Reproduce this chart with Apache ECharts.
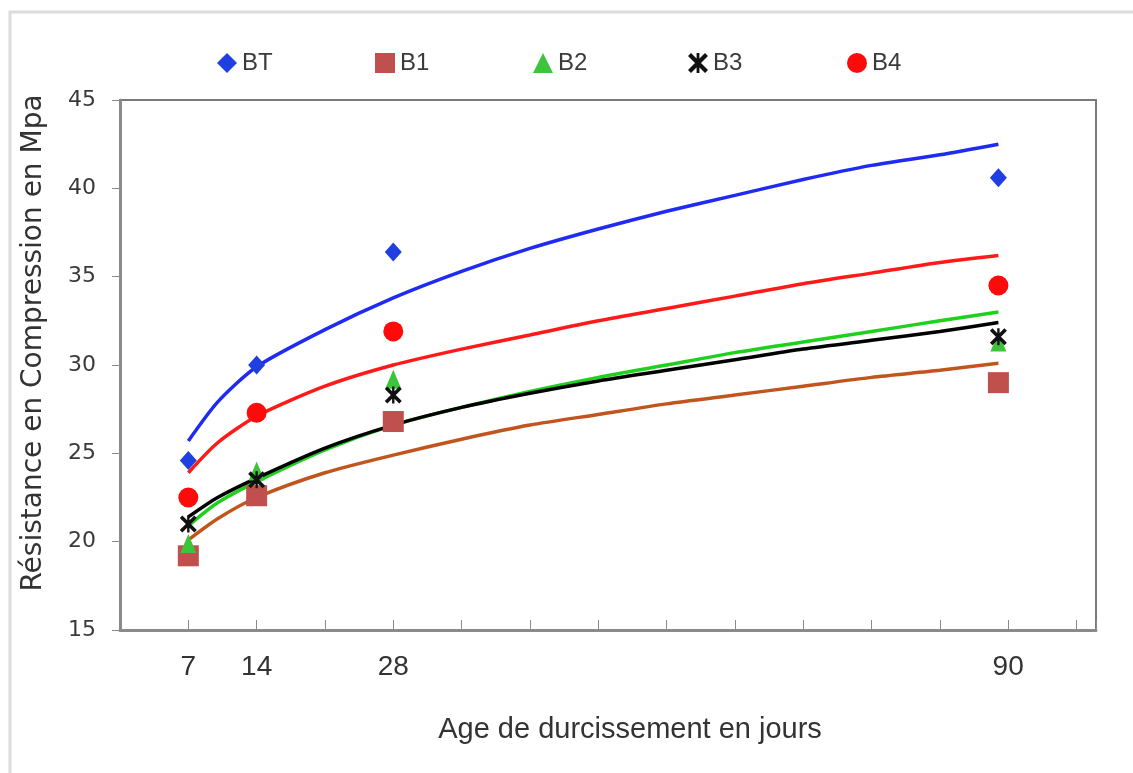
<!DOCTYPE html>
<html>
<head>
<meta charset="utf-8">
<script src="https://cdn.jsdelivr.net/npm/echarts@6/dist/echarts.min.js"></script>
<style>
  html, body { margin: 0; padding: 0; background: #fff; }
  #chart { width: 1133px; height: 773px; }
</style>
</head>
<body>
<div id="chart"></div>
<script>
var chartDom = document.getElementById('chart');
var myChart = echarts.init(chartDom);
var option;

// measured ages (days)
var days = [7, 14, 28, 90];
// compressive strength, MPa
var bt = [24.6, 30.0, 36.4, 40.6];
var b1 = [19.2, 22.6, 26.8, 29.0];
var b2 = [19.9, 24.0, 29.2, 31.3];
var b3 = [21.0, 23.5, 28.3, 31.6];
var b4 = [22.5, 27.3, 31.9, 34.5];

// trend curves
var trendDays = [7, 10, 14, 21, 28, 35, 42, 49, 56, 63, 70, 77, 84, 90];
var btTrend = [25.7, 27.9, 29.9, 32.0, 33.8, 35.3, 36.6, 37.7, 38.7, 39.6, 40.5, 41.3, 41.9, 42.5];
var b1Trend = [20.1, 21.3, 22.5, 23.9, 24.9, 25.8, 26.6, 27.2, 27.8, 28.3, 28.8, 29.3, 29.7, 30.1];
var b2Trend = [20.9, 22.2, 23.4, 25.2, 26.6, 27.6, 28.5, 29.3, 30.0, 30.7, 31.3, 31.9, 32.5, 33.0];
var b3Trend = [21.4, 22.5, 23.6, 25.3, 26.6, 27.6, 28.4, 29.1, 29.7, 30.3, 30.9, 31.4, 31.9, 32.4];
var b4Trend = [23.9, 25.6, 27.1, 28.8, 30.0, 30.9, 31.7, 32.5, 33.2, 33.9, 34.6, 35.2, 35.8, 36.2];

// x tick labels (tick value -> text)
var xTickValues = [7, 14, 28, 91];
var xTickLabels = ['7', '14', '28', '90'];

var starPath = 'path://M0,1.5L1.5,0L10,8.5L8.5,10Z M8.5,0L10,1.5L1.5,10L0,8.5Z M4.3,0L5.7,0L5.7,10L4.3,10Z';

var groups = [
  { name: 'BT', pts: bt, trend: btTrend, line: '#1f2af2', mark: '#1f3fe0', symbol: 'diamond', size: [17, 19], legendLeft: 212 },
  { name: 'B1', pts: b1, trend: b1Trend, line: '#c0561e', mark: '#c0504d', symbol: 'rect', size: [21, 21], legendLeft: 370 },
  { name: 'B2', pts: b2, trend: b2Trend, line: '#1fd01f', mark: '#3cc43c', symbol: 'triangle', size: [16, 19], legendLeft: 528 },
  { name: 'B3', pts: b3, trend: b3Trend, line: '#000000', mark: '#111111', symbol: starPath, size: [17, 17], legendLeft: 683 },
  { name: 'B4', pts: b4, trend: b4Trend, line: '#ff1a1a', mark: '#ff0a0a', symbol: 'circle', size: [20, 20], legendLeft: 842 }
];

var series = [];
groups.forEach(function (g) {
  series.push({
    name: g.name + ' trend',
    type: 'line',
    smooth: 0.25,
    showSymbol: false,
    silent: true,
    lineStyle: { color: g.line, width: 3.5 },
    itemStyle: { color: g.line },
    data: trendDays.map(function (d, i) { return [d, g.trend[i]]; }),
    z: 2
  });
});
groups.forEach(function (g) {
  series.push({
    name: g.name,
    type: 'scatter',
    symbol: g.symbol,
    symbolSize: g.size,
    itemStyle: { color: g.mark, opacity: 1 },
    data: days.map(function (d, i) { return [d, g.pts[i]]; }),
    z: 3
  });
});

var legends = groups.map(function (g) {
  return {
    data: [g.name],
    left: g.legendLeft,
    top: 46,
    itemWidth: 20,
    itemHeight: 20,
    itemGap: 0,
    textStyle: { fontFamily: "'Liberation Sans', sans-serif", fontSize: 24, color: '#3a3a3a' }
  };
});

option = {
  backgroundColor: '#ffffff',
  animation: false,
  graphic: [{
    type: 'rect',
    shape: { x: 10, y: 12, width: 1300, height: 900 },
    style: { fill: 'none', stroke: '#dcdcdc', lineWidth: 3 },
    silent: true
  }],
  legend: legends,
  grid: {
    left: 120, right: 37, top: 100, bottom: 143,
    show: true, borderColor: '#7a7a7a', borderWidth: 2, backgroundColor: 'transparent'
  },
  xAxis: {
    type: 'value',
    min: 0, max: 100, interval: 7,
    name: 'Age de durcissement en jours',
    nameLocation: 'middle',
    nameGap: 85,
    nameTextStyle: { fontFamily: "'Liberation Sans', sans-serif", fontSize: 29, color: '#333333', padding: [0, 0, 0, 44] },
    axisLine: { lineStyle: { color: '#8a8a8a', width: 3 } },
    axisTick: { inside: true, length: 10, lineStyle: { color: '#8a8a8a', width: 1 } },
    axisLabel: {
      margin: 23,
      fontFamily: "'Liberation Sans', sans-serif",
      fontSize: 28,
      color: '#333333',
      showMinLabel: true,
      showMaxLabel: true,
      formatter: function (v) {
        var k = xTickValues.indexOf(v);
        return k >= 0 ? xTickLabels[k] : '';
      }
    },
    splitLine: { show: false }
  },
  yAxis: {
    type: 'value',
    min: 15, max: 45, interval: 5,
    name: 'Résistance en Compression en Mpa',
    nameLocation: 'middle',
    nameGap: 72,
    nameTextStyle: { fontFamily: 'DejaVu Sans', fontSize: 28, color: '#333333', padding: [0, 0, 0, 44] },
    axisLine: { show: true, lineStyle: { color: '#8a8a8a', width: 3 } },
    axisTick: { show: true, inside: false, length: 8, lineStyle: { color: '#8a8a8a', width: 1 } },
    axisLabel: { margin: 24, fontFamily: 'DejaVu Sans', fontSize: 22, color: '#3a3a3a' },
    splitLine: { show: false }
  },
  series: series
};

option && myChart.setOption(option);
</script>
</body>
</html>
